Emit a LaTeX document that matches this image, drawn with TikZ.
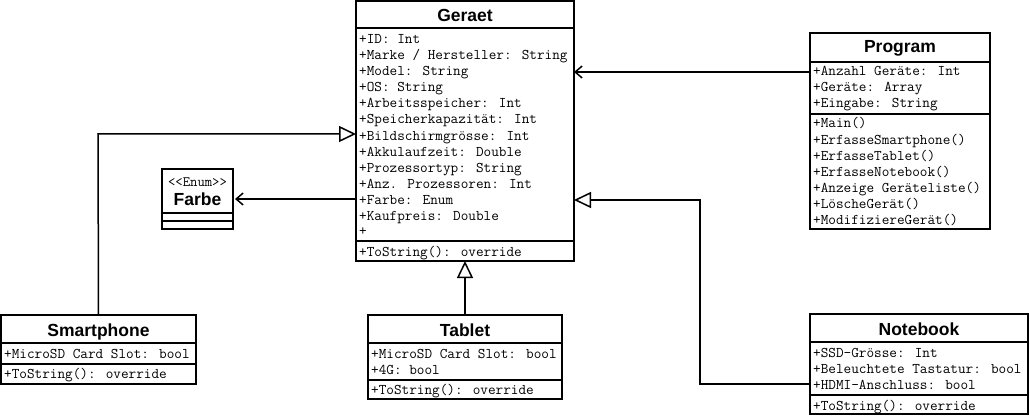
\documentclass[tikz,border=0pt]{standalone}
\usepackage{fontspec}
\setmainfont{Liberation Sans}
\usetikzlibrary{arrows.meta}
\tikzset{
 cls/.style={draw, line width=1.5pt, fill=white, inner sep=0pt, outer sep=0pt, anchor=north west},
 ttl/.style={font=\fontsize{17.5}{17.5}\selectfont\bfseries, anchor=base, inner sep=0pt},
 att/.style={font=\fontsize{14.8}{16}\selectfont\ttfamily, anchor=base west, inner sep=0pt},
 stereo/.style={font=\fontsize{14.3}{16}\selectfont\ttfamily, anchor=base, inner sep=0pt},
 sepl/.style={line width=1.5pt},
 conn/.style={line width=1.5pt},
 inh/.style={conn, -{Triangle[open, length=17pt, width=16pt, line width=1.5pt]}},
 asc/.style={conn, -{Straight Barb[length=7pt, width=12pt, line width=1.5pt]}},
}
\begin{document}
\begin{tikzpicture}[x=1pt, y=-1pt]
\fill[white] (0,0) rectangle (1030,417);
\useasboundingbox (0,0) rectangle (1030,417);

% ---------- Geraet ----------
\node[cls, minimum width=218pt, minimum height=260pt] (geraet) at (356,1) {};
\node[ttl] (gt) at (465,22) {Geraet};
\draw[sepl] (geraet.west |- 0,28) -- (geraet.east |- 0,28);
\node[att] (g1) at (359,44) {+ID: Int};
\node[att] (g2) at (359,60) {+Marke / Hersteller: String};
\node[att] (g3) at (359,76) {+Model: String};
\node[att] (g4) at (359,92) {+OS: String};
\node[att] (g5) at (359,108) {+Arbeitsspeicher: Int};
\node[att] (g6) at (359,124) {+Speicherkapazität: Int};
\node[att] (g7) at (359,140) {+Bildschirmgrösse: Int};
\node[att] (g8) at (359,156) {+Akkulaufzeit: Double};
\node[att] (g9) at (359,172) {+Prozessortyp: String};
\node[att] (g10) at (359,188) {+Anz. Prozessoren: Int};
\node[att] (g11) at (359,204) {+Farbe: Enum};
\node[att] (g12) at (359,220) {+Kaufpreis: Double};
\node[att] (g13) at (359,235) {+};
\draw[sepl] (geraet.west |- 0,241) -- (geraet.east |- 0,241);
\node[att] (gm1) at (359,256) {+ToString(): override};

% ---------- Program ----------
\node[cls, minimum width=180pt, minimum height=196pt] (program) at (810,33) {};
\node[ttl] (pt) at (900,53) {Program};
\draw[sepl] (program.west |- 0,62) -- (program.east |- 0,62);
\node[att] (p1) at (813,76) {+Anzahl Geräte: Int};
\node[att] (p2) at (813,92) {+Geräte: Array};
\node[att] (p3) at (813,108) {+Eingabe: String};
\draw[sepl] (program.west |- 0,114) -- (program.east |- 0,114);
\node[att] (pm1) at (813,128) {+Main()};
\node[att] (pm2) at (813,144) {+ErfasseSmartphone()};
\node[att] (pm3) at (813,160) {+ErfasseTablet()};
\node[att] (pm4) at (813,176) {+ErfasseNotebook()};
\node[att] (pm5) at (813,192) {+Anzeige Geräteliste()};
\node[att] (pm6) at (813,208) {+LöscheGerät()};
\node[att] (pm7) at (813,224) {+ModifiziereGerät()};

% ---------- Farbe ----------
\node[cls, minimum width=71pt, minimum height=60pt] (farbe) at (162,169) {};
\node[stereo] (fs) at (197.5,186) {<<Enum>>};
\node[ttl] (ft) at (197.5,205) {Farbe};
\draw[sepl] (farbe.west |- 0,213) -- (farbe.east |- 0,213);
\draw[sepl] (farbe.west |- 0,221) -- (farbe.east |- 0,221);

% ---------- Smartphone ----------
\node[cls, minimum width=195pt, minimum height=69pt] (smart) at (1,315) {};
\node[ttl] (st) at (98.5,336) {Smartphone};
\draw[sepl] (smart.west |- 0,343) -- (smart.east |- 0,343);
\node[att] (s1) at (4,358) {+MicroSD Card Slot: bool};
\draw[sepl] (smart.west |- 0,364) -- (smart.east |- 0,364);
\node[att] (sm1) at (4,378) {+ToString(): override};

% ---------- Tablet ----------
\node[cls, minimum width=194pt, minimum height=84pt] (tablet) at (368,315) {};
\node[ttl] (tt) at (465,336) {Tablet};
\draw[sepl] (tablet.west |- 0,343) -- (tablet.east |- 0,343);
\node[att] (t1) at (371,358) {+MicroSD Card Slot: bool};
\node[att] (t2) at (371,374) {+4G: bool};
\draw[sepl] (tablet.west |- 0,380) -- (tablet.east |- 0,380);
\node[att] (tm1) at (371,394) {+ToString(): override};

% ---------- Notebook ----------
\node[cls, minimum width=218pt, minimum height=100pt] (notebook) at (810,314) {};
\node[ttl] (nt) at (919,335) {Notebook};
\draw[sepl] (notebook.west |- 0,342) -- (notebook.east |- 0,342);
\node[att] (n1) at (813,357) {+SSD-Grösse: Int};
\node[att] (n2) at (813,373) {+Beleuchtete Tastatur: bool};
\node[att] (n3) at (813,389) {+HDMI-Anschluss: bool};
\draw[sepl] (notebook.west |- 0,395) -- (notebook.east |- 0,395);
\node[att] (nm1) at (813,410) {+ToString(): override};

% ---------- Connectors ----------
\coordinate (smbend) at (98,134);
\coordinate (nbbend) at (700,200);
\draw[asc] (program.west |- 0,72) -- (geraet.east |- 0,72);
\draw[asc] (geraet.west |- 0,199) -- ([xshift=2pt]farbe.east |- 0,199);
\draw[inh] (smart.north) -- (smbend) -- (geraet.west |- smbend);
\draw[inh] (tablet.north) -- (geraet.south);
\draw[inh] (notebook.west |- 0,384) -| (nbbend) -- (geraet.east |- nbbend);
\end{tikzpicture}
\end{document}
